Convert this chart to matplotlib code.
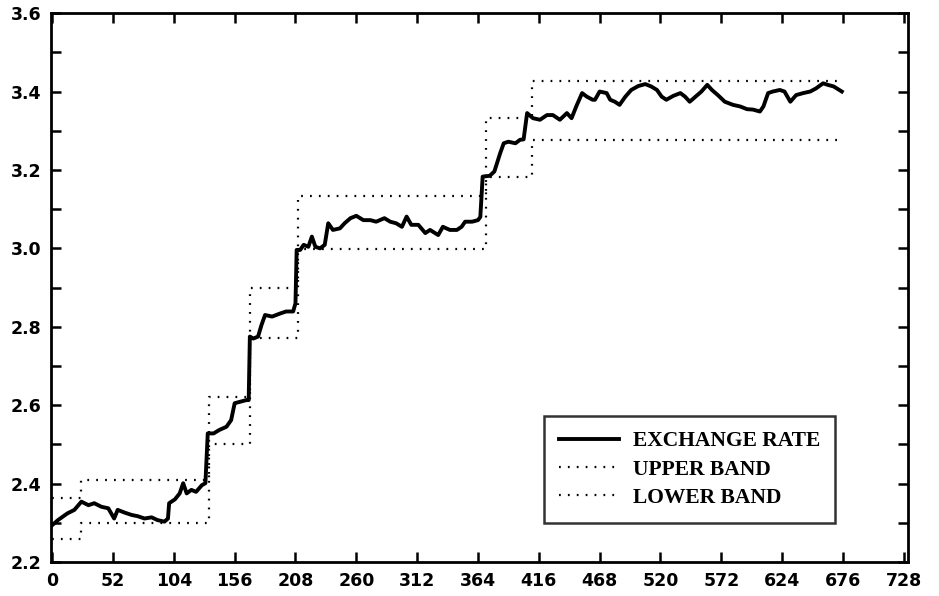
import numpy as np
import matplotlib
matplotlib.use("Agg")
import matplotlib.pyplot as plt
from matplotlib.ticker import MultipleLocator
#--------------------------------------
# exchange rate
rateX = [0, 5, 13, 19, 25, 31, 36, 42, 48, 53, 56, 62, 68, 73, 79, 85, 90, 96, 99,
         100, 105, 109, 112, 115, 119, 123, 128, 131, 133, 138, 143, 149, 153, 156,
         161, 166, 168, 169, 172, 176, 179, 182, 188, 195, 200, 206, 208, 209, 212,
         215, 219, 222, 225, 229, 233, 236, 240, 246, 250, 255, 260, 266, 272, 277,
         284, 289, 294, 299, 303, 307, 313, 319, 323, 330, 334, 340, 346, 350, 353,
         359, 364, 366, 368, 374, 378, 383, 386, 390, 396, 400, 403, 406, 411, 417,
         423, 428, 434, 440, 444, 448, 453, 457, 462, 464, 468, 474, 477, 481, 485,
         490, 495, 501, 507, 512, 517, 521, 525, 531, 537, 541, 545, 550, 555, 560,
         564, 569, 575, 582, 588, 594, 599, 605, 608, 612, 616, 622, 626, 631, 636,
         642, 648, 653, 659, 663, 668, 675]
rateY = [2.294, 2.307, 2.324, 2.333, 2.354, 2.345, 2.350, 2.341, 2.337, 2.311, 2.333,
         2.326, 2.320, 2.317, 2.311, 2.314, 2.307, 2.303, 2.311,
         2.350, 2.360, 2.375, 2.401, 2.375, 2.384, 2.379, 2.396, 2.401, 2.528, 2.528,
         2.537, 2.545, 2.562, 2.605,
         2.609, 2.613, 2.613, 2.775, 2.770, 2.775, 2.805, 2.830, 2.826, 2.834, 2.839,
         2.839, 2.860, 2.996, 2.996,
         3.009, 3.004, 3.030, 3.004, 3.000, 3.009, 3.064, 3.047, 3.051, 3.064, 3.077,
         3.083, 3.072, 3.072, 3.068,
         3.077, 3.068, 3.064, 3.055, 3.081, 3.060, 3.060, 3.039, 3.047, 3.034, 3.055,
         3.047, 3.047, 3.055, 3.068,
         3.068, 3.072, 3.080, 3.183, 3.185, 3.196, 3.243, 3.268, 3.272, 3.268, 3.277,
         3.278, 3.345, 3.332, 3.328,
         3.340, 3.340, 3.328, 3.345, 3.332, 3.362, 3.396, 3.387, 3.379, 3.379, 3.400,
         3.396, 3.379, 3.374, 3.366,
         3.387, 3.404, 3.414, 3.419, 3.413, 3.404, 3.387, 3.379, 3.389, 3.396, 3.387,
         3.374, 3.387, 3.400, 3.417,
         3.404, 3.391, 3.374, 3.366, 3.362, 3.355, 3.354, 3.349, 3.362, 3.396, 3.400,
         3.404, 3.400, 3.374, 3.391,
         3.396, 3.400, 3.408, 3.421, 3.417, 3.413, 3.400]

# target zone bands (step changes)
bandX = [0, 25, 134, 169, 210, 371, 410, 676]
upper = [2.363, 2.410, 2.620, 2.899, 3.134, 3.332, 3.427]
lower = [2.259, 2.300, 2.500, 2.771, 2.998, 3.182, 3.276]

xTicks = [0, 52, 104, 156, 208, 260, 312, 364, 416, 468, 520, 572, 624, 676, 728]
#--------------------------------------
fig = plt.figure(figsize=(9.39, 5.96), dpi=100)
ax  = fig.add_axes([0.0543, 0.057, 0.9127, 0.921])

dots = (0, (0.8, 3.2))
ax.plot(rateX, rateY, 'k-', lw=2.8, solid_joinstyle='round', label='EXCHANGE RATE')
ax.plot(bandX, upper + [upper[-1]], color='k', lw=1.6, ls=dots,
        drawstyle='steps-post', label='UPPER BAND')
ax.plot(bandX, lower + [lower[-1]], color='k', lw=1.6, ls=dots,
        drawstyle='steps-post', label='LOWER BAND')

ax.set_xlim(-1, 731.6)
ax.set_ylim(2.2, 3.6)
ax.set_xticks(xTicks)
ax.yaxis.set_major_locator(MultipleLocator(0.2))
ax.yaxis.set_minor_locator(MultipleLocator(0.1))
ax.set_yticklabels([f'{v:.1f}' for v in ax.get_yticks()])

for s in ax.spines.values():
    s.set_linewidth(2.0)
ax.tick_params(which='both', direction='in', top=True, right=True,
               length=7, width=1.8, pad=7)
for lb in ax.get_xticklabels() + ax.get_yticklabels():
    lb.set_fontfamily('DejaVu Sans')
    lb.set_fontweight('bold')
    lb.set_fontsize(12.5)

lg = ax.legend(loc='lower left', bbox_to_anchor=(0.575, 0.071), frameon=True,
               fancybox=False, edgecolor='k', handlelength=2.8,
               borderpad=0.7, labelspacing=0.38, handletextpad=0.65,
               borderaxespad=0.0,
               prop={'family': 'Liberation Serif', 'weight': 'bold', 'size': 15.5})
lg.get_frame().set_linewidth(1.8)

fig.savefig('out.png', dpi=100)
